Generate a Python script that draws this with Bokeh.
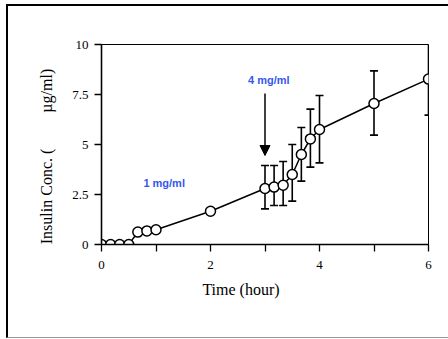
from bokeh.plotting import figure
from bokeh.models import (ColumnDataSource, Whisker, TeeHead, Arrow, NormalHead,
                          Label, FixedTicker, InlineStyleSheet)
from bokeh.embed import file_html
from bokeh.resources import INLINE

# ---- data ----
time_h = [0, 0.167, 0.333, 0.5, 0.667, 0.833, 1.0, 2.0, 3.0, 3.167, 3.333,
          3.5, 3.667, 3.833, 4.0, 5.0, 6.0]
conc = [0, 0, 0, 0, 0.62, 0.68, 0.74, 1.66, 2.8, 2.87, 2.96, 3.5, 4.5,
        5.28, 5.75, 7.05, 8.27]
err_x = [3.0, 3.167, 3.333, 3.5, 3.667, 3.833, 4.0, 5.0, 6.0]
err_upper = [3.95, 3.95, 4.15, 5.0, 5.85, 6.77, 7.45, 8.68, 10.07]
err_lower = [1.78, 1.95, 1.95, 2.17, 3.17, 3.87, 4.08, 5.47, 6.47]

x_ticks = [0, 1, 2, 3, 4, 5, 6]
x_tick_labels = ["0", "", "2", "", "4", "", "6"]
y_ticks = [0, 2.5, 5, 7.5, 10]
y_tick_labels = ["0", "2.5", "5", "7.5", "10"]

arrow_x = 3.0
arrow_y_start = 7.55
arrow_y_end = 4.45
note_texts = ["4 mg/ml", "1 mg/ml"]
note_x = [3.07, 1.15]
note_y = [8.25, 3.1]

NB = "\u00a0"
x_label = "Time (hour)" + NB * 12
y_label = "Insulin Conc. (" + NB * 9 + "\u00b5g/ml)" + NB * 6

W, H = 448, 339
p = figure(width=W, height=H, x_range=(0, 6), y_range=(0, 10),
           output_backend="svg", toolbar_location=None,
           min_border_left=101, min_border_right=20,
           min_border_top=44, min_border_bottom=95)

# page frame: thick black top and left edge, thin grey bottom edge
frame_css = InlineStyleSheet(css="""
:host::after {
  content: "";
  position: absolute;
  left: 6px; top: 4px; width: 460px; height: 331px;
  border-top: 2.5px solid black;
  border-left: 2.5px solid black;
  border-bottom: 1px solid #999999;
  pointer-events: none;
  z-index: 10;
}
""")
p.stylesheets = [frame_css]

p.xgrid.visible = False
p.ygrid.visible = False
p.outline_line_color = "black"
p.outline_line_width = 1
p.background_fill_color = "white"
p.border_fill_color = "white"

serif = "Liberation Serif"
for ax in (p.xaxis[0], p.yaxis[0]):
    ax.axis_line_width = 1.6
    ax.axis_line_color = "black"
    ax.major_tick_line_width = 1.3
    ax.major_tick_out = 7
    ax.major_tick_in = 0
    ax.minor_tick_line_color = None
    ax.major_label_text_font = serif
    ax.major_label_text_font_size = "13px"
    ax.major_label_text_color = "black"
    ax.axis_label_text_font = serif
    ax.axis_label_text_font_size = "16px"
    ax.axis_label_text_font_style = "normal"
    ax.axis_label_text_color = "black"

p.xaxis.ticker = FixedTicker(ticks=x_ticks)
p.xaxis.major_label_overrides = {t: l for t, l in zip(x_ticks, x_tick_labels)}
p.yaxis.ticker = FixedTicker(ticks=y_ticks)
p.yaxis.major_label_overrides = {t: l for t, l in zip(y_ticks, y_tick_labels)}
p.xaxis.major_label_standoff = 9
p.yaxis.major_label_standoff = 6
p.xaxis.axis_label = x_label
p.yaxis.axis_label = y_label
p.xaxis.axis_label_standoff = 9
p.yaxis.axis_label_standoff = 14

esrc = ColumnDataSource(dict(x=err_x, up=err_upper, lo=err_lower))
wh = Whisker(base="x", upper="up", lower="lo", source=esrc,
             line_width=1.6, line_color="black",
             upper_head=TeeHead(size=8, line_width=1.6, line_color="black"),
             lower_head=TeeHead(size=8, line_width=1.6, line_color="black"))
p.add_layout(wh)

src = ColumnDataSource(dict(x=time_h, y=conc))
p.line("x", "y", source=src, line_color="black", line_width=1.5)
p.scatter("x", "y", source=src, size=10, marker="circle", fill_color="white",
          line_color="black", line_width=1.5)

p.add_layout(Arrow(x_start=arrow_x, y_start=arrow_y_start, x_end=arrow_x,
                   y_end=arrow_y_end, line_width=1.5, line_color="black",
                   end=NormalHead(size=10, fill_color="black",
                                  line_color="black", line_width=1)))

for t, xx, yy in zip(note_texts, note_x, note_y):
    p.add_layout(Label(x=xx, y=yy, text=t, text_align="center",
                       text_baseline="middle", text_font="Liberation Sans",
                       text_font_style="bold", text_font_size="11px",
                       text_color="#3358ee"))

open("out.html", "w").write(file_html(p, INLINE))
